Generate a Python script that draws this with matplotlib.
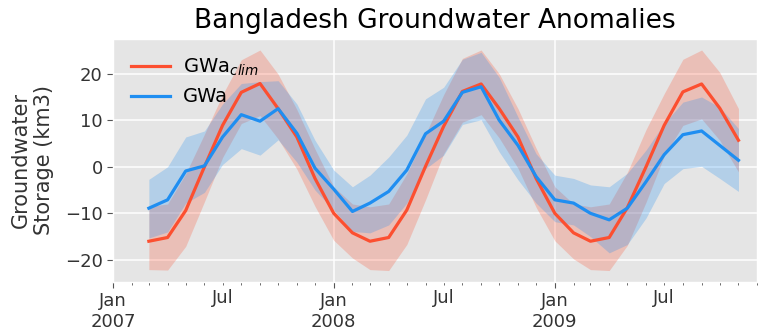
import matplotlib
matplotlib.use("Agg")
import matplotlib.pyplot as plt
import matplotlib.dates as mdates
import matplotlib.ticker as mticker
import pandas as pd

# monthly values, Mar 2007 .. Nov 2009
months = pd.date_range("2007-03-01", "2009-11-01", freq="MS")

gwa_clim = [-16.0, -15.2, -9.4, 0.0, 8.9, 16.0, 17.9, 12.5, 6.4, -2.5,
            -10.0, -14.2, -16.0, -15.2, -9.3, 0.1, 8.7, 16.2, 17.8, 12.5, 6.4, -2.5,
            -10.0, -14.2, -16.0, -15.2, -8.8, 0.0, 8.9, 16.1, 17.8, 12.6, 5.7]
clim_lo = [-22.1, -22.2, -17.1, -7.5, 2.0, 9.3, 11.0, 6.0, -0.5, -8.5,
           -15.8, -19.6, -22.1, -22.3, -16.7, -7.1, 2.8, 9.6, 11.2, 6.2, -0.3, -8.7,
           -15.9, -19.8, -22.1, -22.3, -16.9, -7.6, 2.3, 8.9, 10.3, 5.7, -1.1]
clim_hi = [-8.5, -8.0, -1.5, 7.0, 15.5, 23.0, 25.1, 19.9, 12.3, 3.8,
           -4.3, -8.0, -8.6, -8.0, -1.5, 7.0, 15.5, 23.3, 25.1, 20.0, 12.5, 4.0,
           -4.3, -8.0, -8.6, -8.0, -1.2, 8.0, 15.7, 23.1, 25.1, 20.3, 12.5]

gwa = [-8.9, -7.1, -0.9, 0.2, 6.4, 11.2, 9.8, 12.5, 7.2, -0.3,
       -4.8, -9.6, -7.8, -5.3, -0.7, 7.1, 9.8, 16.0, 17.2, 10.0, 4.6, -2.1,
       -7.1, -7.8, -10.0, -11.4, -8.9, -3.2, 2.6, 6.9, 7.7, 4.6, 1.4]
gwa_lo = [-15.3, -14.0, -7.8, -5.5, 0.5, 3.9, 2.5, 5.8, 1.0, -5.0,
          -9.3, -13.9, -14.2, -12.5, -7.8, -0.4, 2.5, 9.1, 10.1, 3.2, -2.8, -7.8,
          -11.8, -12.5, -15.0, -18.5, -16.7, -11.0, -3.6, -0.4, 0.1, -2.5, -5.3]
gwa_hi = [-2.7, 0.0, 6.4, 7.7, 13.5, 17.9, 18.3, 18.5, 13.5, 5.7,
          -0.7, -4.3, -1.8, 2.1, 6.8, 14.6, 17.1, 23.1, 24.6, 19.2, 10.7, 2.8,
          -1.8, -2.5, -3.9, -4.3, -1.4, 3.6, 9.3, 13.9, 15.0, 12.8, 8.2]

RED, BLUE = "#fc4f30", "#1f8ef1"

plt.style.use("ggplot")
plt.rcParams["font.family"] = ["DejaVu Sans"]

fig = plt.figure(figsize=(7.65, 3.36), dpi=100)
ax = fig.add_axes([0.148, 0.162, 0.841, 0.722])

ax.fill_between(months, clim_lo, clim_hi, color=RED, alpha=0.25, lw=0)
ax.fill_between(months, gwa_lo, gwa_hi, color=BLUE, alpha=0.25, lw=0)
ax.plot(months, gwa_clim, color=RED, lw=2.3, label="GWa$_{clim}$")
ax.plot(months, gwa, color=BLUE, lw=2.3, label="GWa")

ax.set_xlim(pd.Timestamp("2007-01-01"), pd.Timestamp("2009-12-01"))
ax.xaxis.set_major_locator(mdates.YearLocator())
ax.xaxis.set_major_formatter(mdates.DateFormatter("%b\n%Y"))
ax.xaxis.set_minor_locator(mdates.MonthLocator())
ax.xaxis.set_minor_formatter(mticker.FuncFormatter(
    lambda x, pos: "Jul" if mdates.num2date(x).month == 7 else ""))
ax.yaxis.set_major_locator(mticker.MultipleLocator(10))

ax.tick_params(axis="both", which="major", labelsize=13, labelcolor="#333333",
               color="#555555", length=4)
ax.tick_params(axis="x", which="minor", labelsize=13, labelcolor="#333333",
               color="#555555", length=2)
ax.grid(True, which="major", color="white", lw=1.1)
ax.grid(False, which="minor")

ax.set_ylabel("Groundwater\nStorage (km3)", fontsize=15, color="#333333", labelpad=8)
ax.set_title("Bangladesh Groundwater Anomalies", fontsize=19, color="black", pad=8)
leg = ax.legend(loc="upper left", fontsize=14, frameon=False,
                handlelength=2.0, handletextpad=0.7)
for t in leg.get_texts():
    t.set_color("black")

fig.savefig("out.png", dpi=100)
